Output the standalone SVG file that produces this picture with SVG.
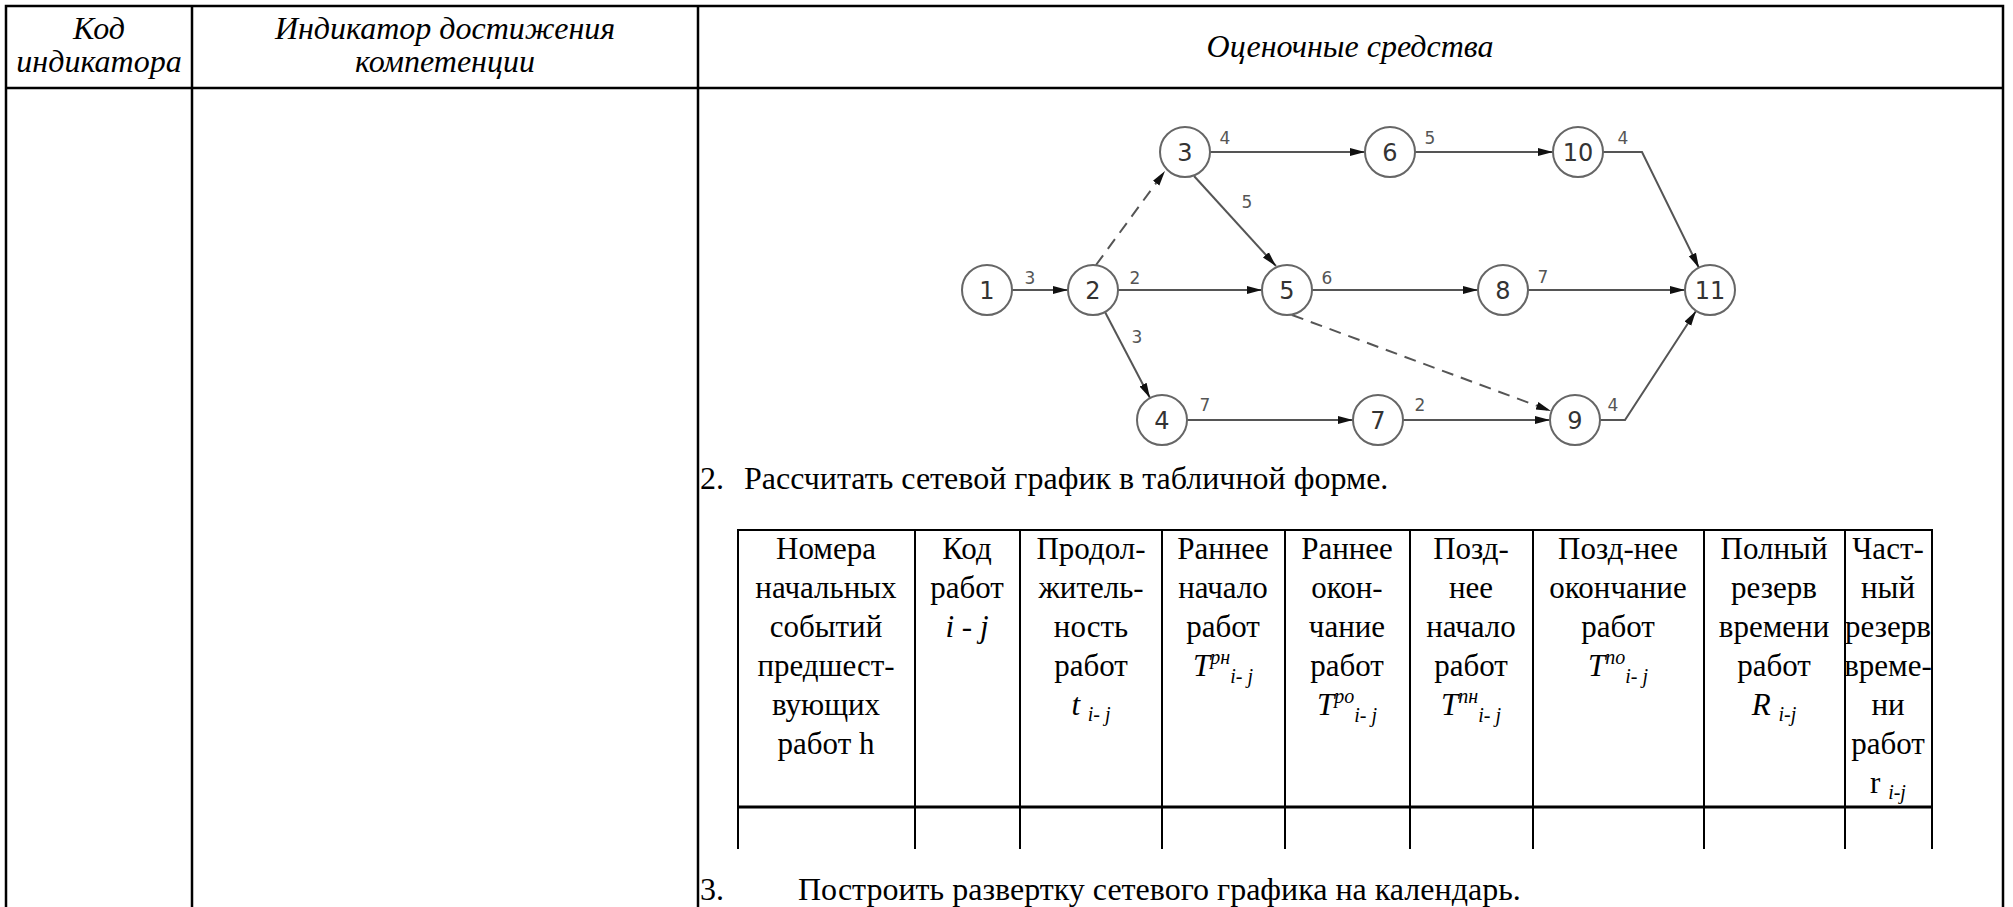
<svg xmlns="http://www.w3.org/2000/svg" width="2013" height="907" viewBox="0 0 2013 907">
<style>
.frame{stroke:#000;stroke-width:2.5;fill:none}
.grid{stroke:#000;stroke-width:2;fill:none}
.hdr{font-family:"Liberation Serif","Times New Roman",serif;font-style:italic;font-size:32px;fill:#000;text-anchor:middle}
.body{font-family:"Liberation Serif","Times New Roman",serif;font-size:32px;fill:#000}
.cell{font-family:"Liberation Serif","Times New Roman",serif;font-size:31px;fill:#000;text-anchor:middle}
.it{font-style:italic}
.sm{font-size:20px;font-style:italic}
.node circle{fill:#fff;stroke:#666;stroke-width:2}
.node text{font-family:"DejaVu Sans",sans-serif;font-size:24px;fill:#333;text-anchor:middle}
.edge{stroke:#555;stroke-width:2;fill:none;marker-end:url(#arr)}
.dash{stroke-dasharray:12 8}
.wl{font-family:"DejaVu Sans",sans-serif;font-size:17px;fill:#555;text-anchor:middle}
</style>
<defs>
<marker id="arr" markerUnits="userSpaceOnUse" markerWidth="16" markerHeight="10" refX="15" refY="5" orient="auto">
<path d="M0,1 L15,5 L0,9 z" fill="#111"/>
</marker>
</defs>
<rect width="2013" height="907" fill="#fff"/>

<g id="outer-table">
<path class="frame" d="M6,907 V6 H2003 V907 M6,88 H2003 M192,6 V907 M698,6 V907"/>
<text class="hdr" x="99" y="39">Код</text>
<text class="hdr" x="99" y="72">индикатора</text>
<text class="hdr" x="445" y="39">Индикатор достижения</text>
<text class="hdr" x="445" y="72">компетенции</text>
<text class="hdr" x="1350" y="57">Оценочные средства</text>
</g>

<g id="connectors">
<line class="edge" x1="1012" y1="290" x2="1068" y2="290"/>
<line class="edge" x1="1118" y1="290" x2="1262" y2="290"/>
<line class="edge" x1="1312" y1="290" x2="1478" y2="290"/>
<line class="edge" x1="1528" y1="290" x2="1685" y2="290"/>
<line class="edge" x1="1210" y1="152" x2="1365" y2="152"/>
<line class="edge" x1="1415" y1="152" x2="1553" y2="152"/>
<line class="edge" x1="1187" y1="420" x2="1353" y2="420"/>
<line class="edge" x1="1403" y1="420" x2="1550" y2="420"/>
<line class="edge dash" x1="1096" y1="265" x2="1165" y2="171"/>
<line class="edge" x1="1194" y1="176" x2="1276" y2="266"/>
<line class="edge" x1="1105" y1="312" x2="1150" y2="398"/>
<line class="edge dash" x1="1292" y1="315" x2="1551" y2="411"/>
<polyline class="edge" points="1603,152 1642,152 1699,268"/>
<polyline class="edge" points="1600,420 1625,420 1696,311"/>
<text class="wl" x="1030" y="284">3</text>
<text class="wl" x="1135" y="284">2</text>
<text class="wl" x="1137" y="343">3</text>
<text class="wl" x="1225" y="144">4</text>
<text class="wl" x="1247" y="208">5</text>
<text class="wl" x="1327" y="284">6</text>
<text class="wl" x="1430" y="144">5</text>
<text class="wl" x="1623" y="144">4</text>
<text class="wl" x="1543" y="283">7</text>
<text class="wl" x="1205" y="411">7</text>
<text class="wl" x="1420" y="411">2</text>
<text class="wl" x="1613" y="411">4</text>
</g>

<g id="n1" class="node"><circle cx="987" cy="290" r="25"/><text x="987" y="299">1</text></g>
<g id="n2" class="node"><circle cx="1093" cy="290" r="25"/><text x="1093" y="299">2</text></g>
<g id="n3" class="node"><circle cx="1185" cy="152" r="25"/><text x="1185" y="161">3</text></g>
<g id="n4" class="node"><circle cx="1162" cy="420" r="25"/><text x="1162" y="429">4</text></g>
<g id="n5" class="node"><circle cx="1287" cy="290" r="25"/><text x="1287" y="299">5</text></g>
<g id="n6" class="node"><circle cx="1390" cy="152" r="25"/><text x="1390" y="161">6</text></g>
<g id="n7" class="node"><circle cx="1378" cy="420" r="25"/><text x="1378" y="429">7</text></g>
<g id="n8" class="node"><circle cx="1503" cy="290" r="25"/><text x="1503" y="299">8</text></g>
<g id="n9" class="node"><circle cx="1575" cy="420" r="25"/><text x="1575" y="429">9</text></g>
<g id="n10" class="node"><circle cx="1578" cy="152" r="25"/><text x="1578" y="161">10</text></g>
<g id="n11" class="node"><circle cx="1710" cy="290" r="25"/><text x="1710" y="299">11</text></g>

<g id="task2">
<text class="body" x="700" y="489">2.</text>
<text class="body" x="744" y="489">Рассчитать сетевой график в табличной форме.</text>
</g>

<g id="calc-table">
<path class="grid" d="M738,849 V530 H1932 V849 M915,530 V849 M1020,530 V849 M1162,530 V849 M1285,530 V849 M1410,530 V849 M1533,530 V849 M1704,530 V849 M1845,530 V849"/>
<line x1="738" y1="807" x2="1932" y2="807" stroke="#000" stroke-width="3"/>
<g class="cell">
<text x="826" y="559">Номера</text>
<text x="826" y="598">начальных</text>
<text x="826" y="637">событий</text>
<text x="826" y="676">предшест-</text>
<text x="826" y="715">вующих</text>
<text x="826" y="754">работ h</text>

<text x="967" y="559">Код</text>
<text x="967" y="598">работ</text>
<text x="967" y="637" class="it">i - j</text>

<text x="1091" y="559">Продол-</text>
<text x="1091" y="598">житель-</text>
<text x="1091" y="637">ность</text>
<text x="1091" y="676">работ</text>
<text x="1091" y="715"><tspan class="it">t </tspan><tspan class="sm" dy="6">i- j</tspan></text>

<text x="1223" y="559">Раннее</text>
<text x="1223" y="598">начало</text>
<text x="1223" y="637">работ</text>
<text x="1223" y="676"><tspan class="it">T</tspan><tspan class="sm" dy="-12">рн</tspan><tspan class="sm" dy="19">i- j</tspan></text>

<text x="1347" y="559">Раннее</text>
<text x="1347" y="598">окон-</text>
<text x="1347" y="637">чание</text>
<text x="1347" y="676">работ</text>
<text x="1347" y="715"><tspan class="it">T</tspan><tspan class="sm" dy="-12">ро</tspan><tspan class="sm" dy="19">i- j</tspan></text>

<text x="1471" y="559">Позд-</text>
<text x="1471" y="598">нее</text>
<text x="1471" y="637">начало</text>
<text x="1471" y="676">работ</text>
<text x="1471" y="715"><tspan class="it">T</tspan><tspan class="sm" dy="-12">пн</tspan><tspan class="sm" dy="19">i- j</tspan></text>

<text x="1618" y="559">Позд-нее</text>
<text x="1618" y="598">окончание</text>
<text x="1618" y="637">работ</text>
<text x="1618" y="676"><tspan class="it">T</tspan><tspan class="sm" dy="-12">по</tspan><tspan class="sm" dy="19">i- j</tspan></text>

<text x="1774" y="559">Полный</text>
<text x="1774" y="598">резерв</text>
<text x="1774" y="637">времени</text>
<text x="1774" y="676">работ</text>
<text x="1774" y="715"><tspan class="it">R </tspan><tspan class="sm" dy="6">i-j</tspan></text>

<text x="1888" y="559">Част-</text>
<text x="1888" y="598">ный</text>
<text x="1888" y="637">резерв</text>
<text x="1888" y="676">време-</text>
<text x="1888" y="715">ни</text>
<text x="1888" y="754">работ</text>
<text x="1888" y="793"><tspan>r </tspan><tspan class="sm" dy="6">i-j</tspan></text>
</g>
</g>

<g id="task3">
<text class="body" x="700" y="900">3.</text>
<text class="body" x="798" y="900">Построить развертку сетевого графика на календарь.</text>
</g>
</svg>
